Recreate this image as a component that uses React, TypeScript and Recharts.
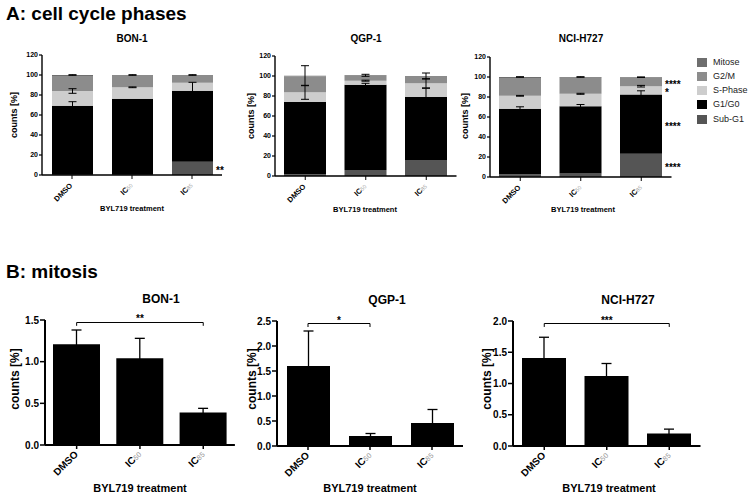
import React from 'react';
import { BarChart, Bar, XAxis, YAxis, ErrorBar, LabelList, ReferenceLine, Label } from 'recharts';

const FONT = "'Liberation Sans', Arial, sans-serif";

const treatments = ['DMSO', 'IC50', 'IC85'];
const phaseNames = ['Sub-G1', 'G1/G0', 'S-Phase', 'G2/M', 'Mitose'];
const phaseColors = ['#555555', '#000000', '#cdcdcd', '#8c8c8c', '#6e6e6e'];

// A: cell cycle phases [%] - one row per phase (Sub-G1 .. Mitose), one column per treatment
const bonPhases = [
  [0.3, 0.3, 13.3],
  [69, 76, 71],
  [14.7, 11.4, 8],
  [15, 11.5, 7],
  [1, 0.8, 0.7],
];
const bonPhaseErr = [
  [0, 0, 0],
  [4, 0, 8.4],
  [2.3, 0.4, 0],
  [0, 0, 0],
  [0.3, 0.3, 0.3],
];
const bonSigIC85 = ['**', '', '', '', ''];

const qgpPhases = [
  [1.7, 6, 16],
  [72.3, 85.3, 63],
  [9.7, 4, 13.7],
  [15.8, 4.7, 6.5],
  [0.8, 0.7, 0.8],
];
const qgpPhaseErr = [
  [0, 0, 0],
  [0, 1.4, 8.7],
  [7, 0.5, 4.6],
  [0, 0, 0],
  [10, 1, 3],
];
const qgpSigIC85 = ['', '', '', '', ''];

const nciPhases = [
  [2.8, 3.5, 23.2],
  [65.4, 67.3, 59.3],
  [13, 12.4, 8.3],
  [17.8, 16, 8.2],
  [1, 0.8, 0.8],
];
const nciPhaseErr = [
  [0, 0, 0],
  [2, 1.7, 3.7],
  [0.4, 0.5, 0.8],
  [0, 0, 0],
  [0.3, 0.3, 0.3],
];
const nciSigIC85 = ['****', '****', '*', '****', ''];

const phaseTicks = [0, 20, 40, 60, 80, 100, 120];

// B: mitosis counts [%]
const bonMitosis = [1.21, 1.04, 0.39];
const bonMitosisErr = [0.17, 0.24, 0.05];
const qgpMitosis = [1.6, 0.2, 0.46];
const qgpMitosisErr = [0.7, 0.05, 0.27];
const nciMitosis = [1.41, 1.12, 0.2];
const nciMitosisErr = [0.33, 0.2, 0.07];

const bonMitosisTicks = [0, 0.5, 1, 1.5];
const qgpMitosisTicks = [0, 0.5, 1, 1.5, 2, 2.5];
const nciMitosisTicks = [0, 0.5, 1, 1.5, 2];

function phaseRows(values: number[][], errs: number[][], sig: string[]) {
  return treatments.map((name, i) => {
    const row: any = { name };
    values.forEach((v, k) => {
      row[`p${k}`] = v[i];
      if (errs[k][i] > 0) row[`e${k}`] = errs[k][i];
      if (i === treatments.length - 1 && sig[k]) row[`s${k}`] = sig[k];
    });
    return row;
  });
}

function mitosisRows(values: number[], errs: number[]) {
  return treatments.map((name, i) => ({ name, value: values[i], err: errs[i] }));
}

const TreatmentTick = (props: any) => {
  const { x, y, payload, fontSize, dx, dy } = props;
  const v = String(payload.value);
  const isIC = v.startsWith('IC');
  return (
    <g transform={`translate(${x + dx},${y + dy})`}>
      <text transform="rotate(-45)" textAnchor="end" fontSize={fontSize} fontWeight="bold" fill="#000" fontFamily={FONT}>
        {isIC ? (
          <>
            <tspan>IC</tspan>
            <tspan fontSize={fontSize * 0.72} fill="#999" fontWeight="normal">{v.slice(2)}</tspan>
          </>
        ) : (
          v
        )}
      </text>
    </g>
  );
};

const SigLabel = (props: any) => {
  const vb = props.viewBox || {};
  const x = props.x ?? vb.x;
  const y = props.y ?? vb.y;
  const width = props.width ?? vb.width;
  const height = props.height ?? vb.height;
  if (!props.value) return null;
  return (
    <text x={x + width + 3} y={y + height / 2 + 6} fontSize={10} fontWeight="bold" fill="#000" fontFamily={FONT}>
      {props.value}
    </text>
  );
};

type PhaseProps = {
  values: number[][];
  errs: number[][];
  sig: string[];
  plotLeft: number;
  plotTop: number;
  band: number;
  barSize: number;
};

function PhaseChart({ values, errs, sig, plotLeft, plotTop, band, barSize }: PhaseProps) {
  const yW = 40;
  const mt = 10;
  const mr = 35;
  const xh = 40;
  const plotH = 120;
  const data = phaseRows(values, errs, sig);
  return (
    <div style={{ position: 'absolute', left: plotLeft - yW, top: plotTop - mt }}>
      <BarChart width={yW + band * 3 + mr} height={mt + plotH + xh} data={data} margin={{ top: mt, right: mr, left: 0, bottom: 0 }}>
        <XAxis
          dataKey="name"
          height={xh}
          interval={0}
          axisLine={{ stroke: '#000', strokeWidth: 1.4 }}
          tickLine={{ stroke: '#000', strokeWidth: 1 }}
          tickSize={4}
          tickMargin={0}
          tick={(p: any) => <TreatmentTick {...p} fontSize={7.5} dx={1} dy={7} />}
        />
        <YAxis
          width={yW}
          domain={[0, 120]}
          ticks={phaseTicks}
          interval={0}
          axisLine={{ stroke: '#000', strokeWidth: 1.4 }}
          tickLine={{ stroke: '#000', strokeWidth: 1.2 }}
          tickSize={3}
          tickMargin={1}
          tick={{ fontSize: 7, fontWeight: 'bold', fill: '#000' }}
        />
        {phaseNames.map((name, k) => (
          <Bar key={name} name={name} dataKey={`p${k}`} stackId="phases" fill={phaseColors[k]} barSize={barSize} isAnimationActive={false}>
            <ErrorBar dataKey={`e${k}`} width={4} stroke="#000" strokeWidth={1} direction="y" />
            <LabelList dataKey={`s${k}`} content={SigLabel} />
          </Bar>
        ))}
      </BarChart>
    </div>
  );
}

type MitosisProps = {
  values: number[];
  errs: number[];
  ticks: number[];
  plotLeft: number;
  plotTop: number;
  band: number;
  barSize: number;
  bracketFrom: string;
  bracketTo: string;
  bracketY: number;
  bracketTick: number;
  stars: string;
};

function MitosisChart(p: MitosisProps) {
  const yW = 40;
  const mt = 10;
  const mr = 10;
  const xh = 45;
  const plotH = 125;
  const data = mitosisRows(p.values, p.errs);
  const max = p.ticks[p.ticks.length - 1];
  return (
    <div style={{ position: 'absolute', left: p.plotLeft - yW, top: p.plotTop - mt }}>
      <BarChart width={yW + p.band * 3 + mr} height={mt + plotH + xh} data={data} margin={{ top: mt, right: mr, left: 0, bottom: 0 }}>
        <XAxis
          dataKey="name"
          height={xh}
          interval={0}
          axisLine={{ stroke: '#000', strokeWidth: 2 }}
          tickLine={{ stroke: '#000', strokeWidth: 1.5 }}
          tickSize={4}
          tickMargin={0}
          tick={(t: any) => <TreatmentTick {...t} fontSize={10} dx={2} dy={6} />}
        />
        <YAxis
          width={yW}
          domain={[0, max]}
          ticks={p.ticks}
          interval={0}
          axisLine={{ stroke: '#000', strokeWidth: 2 }}
          tickLine={{ stroke: '#000', strokeWidth: 1.5 }}
          tickSize={5}
          tickMargin={1}
          tickFormatter={(v: number) => v.toFixed(1)}
          tick={{ fontSize: 10, fontWeight: 'bold', fill: '#000' }}
        />
        <Bar dataKey="value" fill="#000" barSize={p.barSize} isAnimationActive={false}>
          <ErrorBar dataKey="err" width={5} stroke="#000" strokeWidth={1.3} direction="y" />
        </Bar>
        <ReferenceLine
          segment={[
            { x: p.bracketFrom, y: p.bracketY },
            { x: p.bracketTo, y: p.bracketY },
          ]}
          stroke="#000"
          strokeWidth={1}
        >
          <Label value={p.stars} position="top" offset={0} fontSize={10} fontWeight="bold" fill="#000" />
        </ReferenceLine>
        <ReferenceLine
          segment={[
            { x: p.bracketFrom, y: p.bracketY },
            { x: p.bracketFrom, y: p.bracketY - p.bracketTick },
          ]}
          stroke="#000"
          strokeWidth={1}
        />
        <ReferenceLine
          segment={[
            { x: p.bracketTo, y: p.bracketY },
            { x: p.bracketTo, y: p.bracketY - p.bracketTick },
          ]}
          stroke="#000"
          strokeWidth={1}
        />
      </BarChart>
    </div>
  );
}

function Txt({ x, y, size, bold = true, rotate = false, children }: any) {
  return (
    <div
      style={{
        position: 'absolute',
        left: x,
        top: y,
        transform: `translate(-50%, -50%)${rotate ? ' rotate(-90deg)' : ''}`,
        fontSize: size,
        fontWeight: bold ? 'bold' : 'normal',
        whiteSpace: 'nowrap',
        lineHeight: 1,
        color: '#000',
      }}
    >
      {children}
    </div>
  );
}

export default function App() {
  return (
    <div style={{ position: 'absolute', left: 0, top: 0, width: 750, height: 497, background: '#fff', fontFamily: FONT, overflow: 'hidden' }}>
      <div style={{ position: 'absolute', left: 6, top: 4, fontSize: 19, fontWeight: 'bold', lineHeight: 1 }}>A: cell cycle phases</div>
      <div style={{ position: 'absolute', left: 6, top: 262, fontSize: 19, fontWeight: 'bold', lineHeight: 1 }}>B: mitosis</div>

      {/* A panels */}
      <Txt x={132} y={39} size={10}>BON-1</Txt>
      <Txt x={366} y={39} size={10}>QGP-1</Txt>
      <Txt x={581} y={39} size={10}>NCI-H727</Txt>
      <Txt x={14} y={115} size={9} rotate>counts [%]</Txt>
      <Txt x={251} y={116} size={9} rotate>counts [%]</Txt>
      <Txt x={465} y={116} size={9} rotate>counts [%]</Txt>
      <Txt x={132} y={209} size={7.5}>BYL719 treatment</Txt>
      <Txt x={365} y={210} size={7.5}>BYL719 treatment</Txt>
      <Txt x={583} y={210} size={7.5}>BYL719 treatment</Txt>

      <PhaseChart values={bonPhases} errs={bonPhaseErr} sig={bonSigIC85} plotLeft={41.5} plotTop={55} band={60} barSize={41} />
      <PhaseChart values={qgpPhases} errs={qgpPhaseErr} sig={qgpSigIC85} plotLeft={275} plotTop={56} band={60.5} barSize={42} />
      <PhaseChart values={nciPhases} errs={nciPhaseErr} sig={nciSigIC85} plotLeft={489.7} plotTop={56.5} band={60.5} barSize={42} />

      {/* legend */}
      {phaseNames
        .map((name, k) => ({ name, color: phaseColors[k] }))
        .reverse()
        .map((item, i) => (
          <div key={item.name} style={{ position: 'absolute', left: 697, top: 57.5 + i * 14.3, display: 'flex', alignItems: 'center' }}>
            <div style={{ width: 10, height: 9, background: item.color }} />
            <span style={{ marginLeft: 6, fontSize: 9, color: '#222', lineHeight: 1 }}>{item.name}</span>
          </div>
        ))}

      {/* B panels */}
      <Txt x={161} y={299} size={12}>BON-1</Txt>
      <Txt x={387} y={300} size={12}>QGP-1</Txt>
      <Txt x={628} y={300} size={12}>NCI-H727</Txt>
      <Txt x={15} y={379} size={12} rotate>counts [%]</Txt>
      <Txt x={252} y={379} size={12} rotate>counts [%]</Txt>
      <Txt x={487} y={379} size={12} rotate>counts [%]</Txt>
      <Txt x={140} y={488} size={11}>BYL719 treatment</Txt>
      <Txt x={370} y={488} size={11}>BYL719 treatment</Txt>
      <Txt x={609} y={488} size={11}>BYL719 treatment</Txt>

      <MitosisChart
        values={bonMitosis}
        errs={bonMitosisErr}
        ticks={bonMitosisTicks}
        plotLeft={45}
        plotTop={320}
        band={63.3}
        barSize={47}
        bracketFrom="DMSO"
        bracketTo="IC85"
        bracketY={1.47}
        bracketTick={0.04}
        stars="**"
      />
      <MitosisChart
        values={qgpMitosis}
        errs={qgpMitosisErr}
        ticks={qgpMitosisTicks}
        plotLeft={276.5}
        plotTop={321}
        band={62}
        barSize={43}
        bracketFrom="DMSO"
        bracketTo="IC50"
        bracketY={2.45}
        bracketTick={0.07}
        stars="*"
      />
      <MitosisChart
        values={nciMitosis}
        errs={nciMitosisErr}
        ticks={nciMitosisTicks}
        plotLeft={513}
        plotTop={321}
        band={62.5}
        barSize={44}
        bracketFrom="DMSO"
        bracketTo="IC85"
        bracketY={1.96}
        bracketTick={0.055}
        stars="***"
      />
    </div>
  );
}
